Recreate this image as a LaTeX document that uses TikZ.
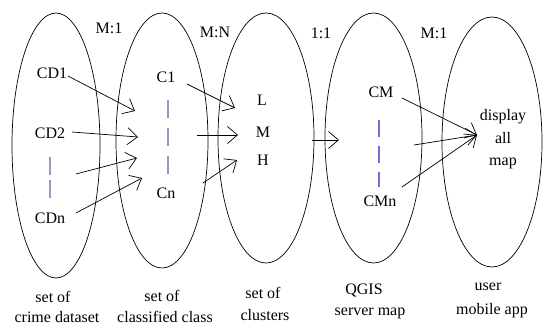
\documentclass[tikz,border=0pt]{standalone}
\usepackage{fontspec}
\setmainfont{Liberation Serif}
\newfontfamily\tnr{Liberation Serif}
\usetikzlibrary{shapes.geometric,arrows.meta}
\definecolor{dashA}{RGB}{155,150,200}
\definecolor{dashB}{RGB}{110,110,215}
\begin{document}
\begin{tikzpicture}[x=1pt,y=-1pt,
  every node/.style={font=\tnr\fontsize{16}{19}\selectfont, inner sep=0pt},
  setell/.style={draw, ellipse, line width=0.7pt, minimum width=#1},
  link/.style={line width=0.7pt, -{Straight Barb[length=10pt,width=17pt,line width=0.7pt]}},
  vdash/.style={line width=1.2pt}
]
\useasboundingbox (0,0) rectangle (544,326);
% sets
\node[setell=88pt, minimum height=265pt] (E1) at (56,145.5) {};
\node[setell=92pt, minimum height=255pt] (E2) at (162,140.5) {};
\node[setell=96pt, minimum height=250pt] (E3) at (266,138) {};
\node[setell=97pt, minimum height=250pt] (E4) at (373.5,138) {};
\node[setell=100pt, minimum height=250pt] (E5) at (492,142) {};
% relation labels
\node (r1) at (109,28) {M:1};
\node (r2) at (215,32) {M:N};
\node (r3) at (321,33) {1:1};
\node (r4) at (434,33) {M:1};
% elements
\node (CD1) at (52,73) {CD1};
\node (CD2) at (50,133) {CD2};
\node (CDn) at (50,218) {CDn};
\node (C1) at (166,77) {C1};
\node (Cn) at (166,193) {Cn};
\node (L) at (262,100) {L};
\node (M) at (263,132) {M};
\node (H) at (263,160) {H};
\node (CM) at (381,92) {CM};
\node (CMn) at (380,201) {CMn};
\node[align=center, font=\tnr\fontsize{16}{22.5}\selectfont] (disp) at (503,139.5) {display\\all\\map};
% dashed continuation marks
\draw[vdash, dashA, dash pattern=on 18pt off 5pt] (50,157) -- (50,198);
\draw[vdash, dashA, dash pattern=on 18pt off 10pt] (168,100) -- (168,175);
\draw[vdash, dashB, dash pattern=on 17pt off 9pt] (379,120) -- (379,187);
% connector coordinates
\coordinate (a1s) at (68,76);  \coordinate (a1e) at (135,111);
\coordinate (a2s) at (72,132); \coordinate (a2e) at (138,137);
\coordinate (a3s) at (76,174); \coordinate (a3e) at (137,158);
\coordinate (a4s) at (76,213); \coordinate (a4e) at (142,178);
\coordinate (b1s) at (187,84); \coordinate (b1e) at (235,108);
\coordinate (b2s) at (197,135);\coordinate (b2e) at (238,135);
\coordinate (b3s) at (203,183);\coordinate (b3e) at (237,160);
\coordinate (c1s) at (312,140);\coordinate (c1e) at (339,140);
\coordinate (d1s) at (402,98); \coordinate (dE) at (477,135);
\coordinate (d2s) at (414,145);
\coordinate (d3s) at (402,187);
\draw[link] (a1s) -- (a1e);
\draw[link] (a2s) -- (a2e);
\draw[link] (a3s) -- (a3e);
\draw[link] (a4s) -- (a4e);
\draw[link] (b1s) -- (b1e);
\draw[link] (b2s) -- (b2e);
\draw[link] (b3s) -- (b3e);
\draw[link] (c1s) -- (c1e);
\draw[link] (d1s) -- (dE);
\draw[link] (d2s) -- (dE);
\draw[link] (d3s) -- (dE);
% captions
\node (s1a) at (53,297) {set of};
\node (s1b) at (57,317) {crime dataset};
\node (s2a) at (162,296) {set of};
\node (s2b) at (165,317) {classified class};
\node (s3a) at (263,293) {set of};
\node (s3b) at (265,315) {clusters};
\node (s4a) at (364,290) {QGIS};
\node (s4b) at (370,313) {server map};
\node (s5a) at (488,287) {user};
\node (s5b) at (492,311) {mobile app};
\end{tikzpicture}
\end{document}
